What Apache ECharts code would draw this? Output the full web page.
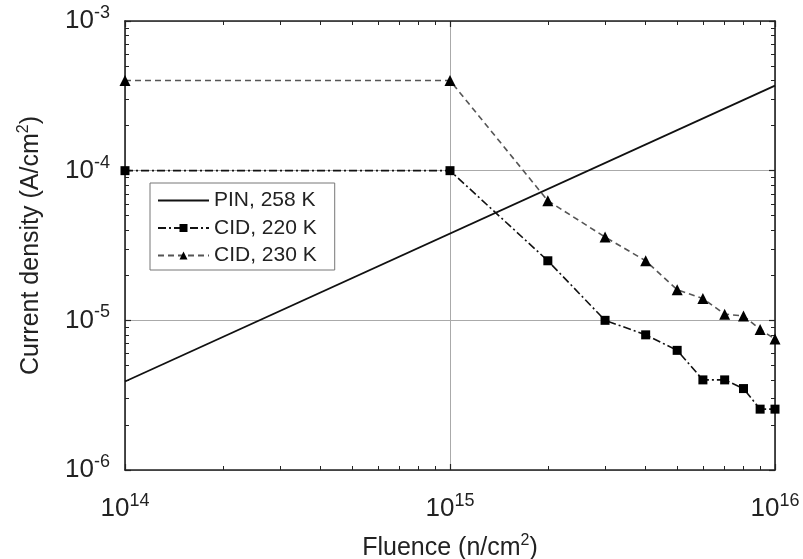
<!DOCTYPE html>
<html><head><meta charset="utf-8">
<script src="https://cdn.jsdelivr.net/npm/echarts@6/dist/echarts.min.js"></script>
<style>html,body{margin:0;padding:0;background:#fff}#c{width:803px;height:559px}</style>
</head><body><div id="c"></div>
<script>
// exponents of the major ticks
const xTickExps = [14, 15, 16];
const yTickExps = [-6, -5, -4, -3];
const minorMult = [2, 3, 4, 5, 6, 7, 8, 9];

// PIN, 258 K (straight line in log-log)
const pinFluence = [1e14, 1e16];
const pinJ = [3.9e-6, 3.7e-4];

// CID series
const cidFluence = [1e14, 1e15, 2e15, 3e15, 4e15, 5e15, 6e15, 7e15, 8e15, 9e15, 1e16];
const cid220J = [1.0e-4, 1.0e-4, 2.5e-5, 1.0e-5, 8.0e-6, 6.3e-6, 4.0e-6, 4.0e-6, 3.5e-6, 2.55e-6, 2.55e-6];
const cid230J = [4.0e-4, 4.0e-4, 6.3e-5, 3.6e-5, 2.5e-5, 1.6e-5, 1.4e-5, 1.1e-5, 1.07e-5, 8.7e-6, 7.5e-6];

const lg = Math.log10;
const FONT = "'Liberation Sans', Arial, Helvetica, sans-serif";
const INK = '#222';

function minorOf(exps) {
  const out = [];
  for (let i = 0; i < exps.length - 1; i++) for (const m of minorMult) out.push(exps[i] + lg(m));
  return out;
}
const xMinor = minorOf(xTickExps);
const yMinor = minorOf(yTickExps);

const tickRich = {
  b: { fontSize: 26, lineHeight: 34, fontFamily: FONT, color: INK },
  s: { fontSize: 18, lineHeight: 18, verticalAlign: 'top', fontFamily: FONT, color: INK }
};
const expLabel = v => '{b|10}{s|' + Math.round(v) + '}';

function majorAxis(pos, min, max, withLabels, margin) {
  return {
    type: 'value', min, max, interval: 1, position: pos,
    axisLine: { show: true, onZero: false, lineStyle: { color: INK, width: 1.6 } },
    axisTick: { show: true, inside: true, length: 6, lineStyle: { color: INK, width: 1.2 } },
    axisLabel: withLabels ? { show: true, formatter: expLabel, rich: tickRich, margin: margin } : { show: false },
    splitLine: { show: withLabels, lineStyle: { color: '#aaa', width: 1 } }
  };
}
function minorAxis(pos, min, max, vals) {
  return {
    type: 'value', min, max, position: pos,
    axisLine: { show: false, onZero: false },
    axisTick: { show: true, inside: true, length: 4, customValues: vals, lineStyle: { color: INK, width: 1 } },
    axisLabel: { show: false },
    splitLine: { show: false }
  };
}

const xMin = xTickExps[0], xMax = xTickExps[xTickExps.length - 1];
const yMin = yTickExps[0], yMax = yTickExps[yTickExps.length - 1];

const titleStyle = { fontSize: 25, fontFamily: FONT, color: INK, lineHeight: 30,
  rich: { s: { fontSize: 16, lineHeight: 16, verticalAlign: 'top', fontFamily: FONT, color: INK } } };

const xMain = majorAxis('bottom', xMin, xMax, true, 22);
xMain.name = 'Fluence (n/cm{s|2})';
xMain.nameLocation = 'middle';
xMain.nameGap = 63;
xMain.nameTextStyle = titleStyle;

const yMain = majorAxis('left', yMin, yMax, true, 15);
yMain.name = 'Current density (A/cm{s|2})';
yMain.nameLocation = 'middle';
yMain.nameGap = 79;
yMain.nameTextStyle = titleStyle;

const toPts = (xs, ys) => xs.map((x, i) => [lg(x), lg(ys[i])]);

const chart = echarts.init(document.getElementById('c'), null, { renderer: 'canvas' });
chart.setOption({
  backgroundColor: '#fff',
  animation: false,
  grid: { left: 125, right: 28, top: 21, bottom: 89, containLabel: false, outerBoundsMode: 'none' },
  legend: {
    orient: 'vertical', left: 150, top: 183,
    backgroundColor: '#fff', borderColor: '#777', borderWidth: 1, borderRadius: 0,
    padding: [7, 18, 4, 7],
    itemWidth: 51, itemHeight: 10, itemGap: 6.5,
    textStyle: { fontSize: 21, fontFamily: FONT, color: INK, lineHeight: 21 },
    data: [
      { name: 'PIN, 258 K', itemStyle: { opacity: 0 } },
      'CID, 220 K',
      'CID, 230 K'
    ]
  },
  xAxis: [
    xMain,
    minorAxis('bottom', xMin, xMax, xMinor),
    majorAxis('top', xMin, xMax, false),
    minorAxis('top', xMin, xMax, xMinor)
  ],
  yAxis: [
    yMain,
    minorAxis('left', yMin, yMax, yMinor),
    majorAxis('right', yMin, yMax, false),
    minorAxis('right', yMin, yMax, yMinor)
  ],
  series: [
    {
      name: 'PIN, 258 K', type: 'line', xAxisIndex: 0, yAxisIndex: 0,
      data: toPts(pinFluence, pinJ), symbol: 'none', showSymbol: false,
      lineStyle: { color: '#111', width: 1.8, type: 'solid' }, itemStyle: { color: '#111' }, z: 3
    },
    {
      name: 'CID, 220 K', type: 'line', xAxisIndex: 0, yAxisIndex: 0,
      data: toPts(cidFluence, cid220J), symbol: 'rect', symbolSize: 9,
      lineStyle: { color: '#111', width: 1.6, type: [8, 3, 2, 3] }, itemStyle: { color: '#000' }, z: 4
    },
    {
      name: 'CID, 230 K', type: 'line', xAxisIndex: 0, yAxisIndex: 0,
      data: toPts(cidFluence, cid230J), symbol: 'triangle', symbolSize: 11,
      lineStyle: { color: '#555', width: 1.6, type: [6, 4] }, itemStyle: { color: '#000' }, z: 4
    }
  ]
});
</script>
</body></html>
